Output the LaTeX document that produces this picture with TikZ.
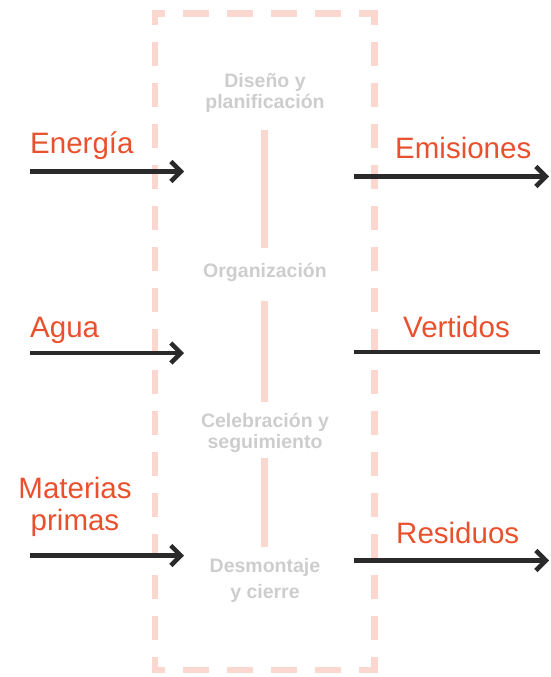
\documentclass[tikz,border=0pt]{standalone}
\usepackage{fontspec}
\setmainfont{Liberation Sans}
\usetikzlibrary{arrows.meta}
\definecolor{flowred}{RGB}{233,80,45}
\definecolor{stagegray}{RGB}{205,205,205}
\definecolor{boxpink}{RGB}{250,216,208}
\definecolor{arrowdark}{RGB}{42,42,42}
\tikzset{
  x=1pt, y=-1pt,
  flowlabel/.style={text=flowred, inner sep=0pt, font=\fontsize{29.5}{32}\selectfont},
  stagelabel/.style={text=stagegray, inner sep=0pt, align=center, font=\bfseries\fontsize{19.5}{21}\selectfont},
  hside/.style={draw=boxpink, line width=6.5pt, dash pattern=on 26pt off 18pt, dash phase=13pt},
  vside/.style={draw=boxpink, line width=6.5pt, dash pattern=on 24pt off 17pt, dash phase=9pt},
  spine/.style={draw=boxpink, line width=7pt},
  flowarrow/.style={draw=arrowdark, line width=4.5pt, -{Straight Barb[length=10pt,width=20pt,line width=4.5pt]}},
  flowline/.style={draw=arrowdark, line width=4.5pt},
}
\begin{document}
\begin{tikzpicture}
\useasboundingbox (0,0) rectangle (551,677);
% dashed box
\coordinate (tl) at (151.75,13.5);
\coordinate (tr) at (377.75,13.5);
\coordinate (bl) at (151.75,670);
\coordinate (br) at (377.75,670);
\coordinate (ltop) at (155,10.25);
\coordinate (lbot) at (155,673.25);
\coordinate (rtop) at (374.5,10.25);
\coordinate (rbot) at (374.5,673.25);
\draw[hside] (tl) -- (tr);
\draw[hside] (bl) -- (br);
\draw[vside] (ltop) -- (lbot);
\draw[vside] (rtop) -- (rbot);

% stages (base anchor = baseline of last line)
\node[stagelabel, anchor=base] (s1) at (265,108) {Diseño y\\planificación};
\node[stagelabel, anchor=base] (s2) at (265,277) {Organización};
\node[stagelabel, anchor=base] (s3) at (265,448) {Celebración y\\seguimiento};
\node[stagelabel, anchor=base, font=\bfseries\fontsize{19.5}{26}\selectfont] (s4) at (265,598) {Desmontaje\\y cierre};

\coordinate (p1a) at (264.5,130);
\coordinate (p1b) at (264.5,248);
\coordinate (p2a) at (264.5,301);
\coordinate (p2b) at (264.5,402);
\coordinate (p3a) at (264.5,458);
\coordinate (p3b) at (264.5,547);
\draw[spine] (p1a) -- (p1b);
\draw[spine] (p2a) -- (p2b);
\draw[spine] (p3a) -- (p3b);

% inputs
\node[flowlabel, anchor=base west] (energia) at (30,153) {Energía};
\node[flowlabel, anchor=base west] (agua) at (30,337) {Agua};
\node[flowlabel, anchor=base, align=center] (materias) at (75,530) {Materias\\primas};
\coordinate (in1a) at (30,171.5);
\coordinate (in1b) at (184,171.5);
\coordinate (in2a) at (30,353);
\coordinate (in2b) at (184,353);
\coordinate (in3a) at (30,555.5);
\coordinate (in3b) at (184,555.5);
\draw[flowarrow] (in1a) -- (in1b);
\draw[flowarrow] (in2a) -- (in2b);
\draw[flowarrow] (in3a) -- (in3b);

% outputs
\node[flowlabel, anchor=base west] (emisiones) at (395,158) {Emisiones};
\node[flowlabel, anchor=base west] (vertidos) at (403,337) {Vertidos};
\node[flowlabel, anchor=base west] (residuos) at (396,543) {Residuos};
\coordinate (out1a) at (354,176.5);
\coordinate (out1b) at (549,176.5);
\coordinate (out2a) at (354,352);
\coordinate (out2b) at (540,352);
\coordinate (out3a) at (354,560.5);
\coordinate (out3b) at (549,560.5);
\draw[flowarrow] (out1a) -- (out1b);
\draw[flowline] (out2a) -- (out2b);
\draw[flowarrow] (out3a) -- (out3b);
\end{tikzpicture}
\end{document}
